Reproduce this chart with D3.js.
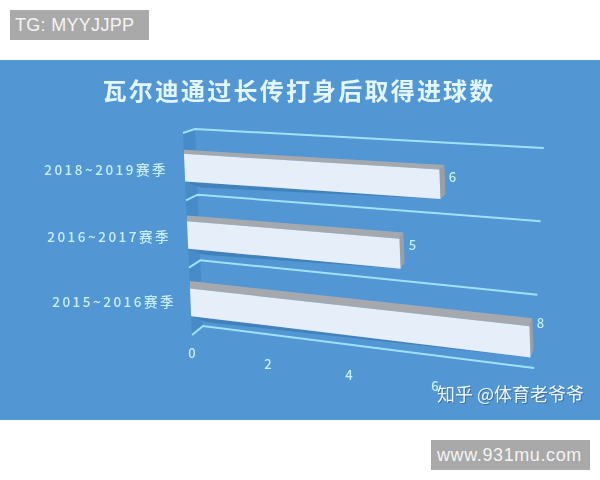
<!DOCTYPE html>
<html>
<head>
<meta charset="utf-8">
<script src="https://cdn.jsdelivr.net/npm/d3@7"></script>
<style>
  html, body { margin: 0; padding: 0; background: #fff; }
  svg { display: block; }
  text { font-family: "Noto Sans CJK SC", "Noto Sans", sans-serif; }
</style>
</head>
<body>
<div id="viz-container"></div>
<script>
// Chart data
const chartTitle = '瓦尔迪通过长传打身后取得进球数';
const seasons = ['2018~2019赛季', '2016~2017赛季', '2015~2016赛季'];
const goals = [6, 5, 8];
const tickLabels = [0, 2, 4, 6];
const gridRows = [0, 1, 2, 3];
const maxValue = 8;

const svg = d3.select('#viz-container').append('svg')
    .attr('width', 600)
    .attr('height', 480);

svg.append('defs').append('filter').attr('id', 'soft')
    .attr('filterUnits', 'userSpaceOnUse')
    .attr('x', 0).attr('y', 60).attr('width', 600).attr('height', 360)
    .append('feGaussianBlur').attr('stdDeviation', 0.5);

// Front plane of the tilted chart, r = row position, v = value
const frontX = d3.scaleLinear().domain([0, 3]).range([183, 192]);
const frontY = d3.scaleLinear().domain([0, 3]).range([133, 335]);
const unitX = d3.scaleLinear().domain([0, 3]).range([42.6, 42.4]);
const unitY = d3.scaleLinear().domain([0, 1, 2, 3]).range([2.4, 3.1, 4.35, 5.5]);

// Back plane, where the grid lines run
const backX = d3.scaleLinear().domain([0, 3]).range([195, 203]);
const backY = d3.scaleLinear().domain([0, 3]).range([129, 326]);
const backUnitX = d3.scaleLinear().domain([0, 3]).range([43.6, 41.4]);
const backUnitY = d3.scaleLinear().domain([0, 3]).range([2.37, 5.25]);

// The value axis is foreshortened, so the tick scale has one stop per label
const tickX = d3.scaleLinear().domain(tickLabels).range([192, 268, 349, 435]);
const tickY = d3.scaleLinear().domain(tickLabels).range([352, 363, 374, 385]);

function pt(v, r) {
    return [frontX(r) + v * unitX(r), frontY(r) + v * unitY(r)];
}
function backPt(v, r) {
    return [backX(r) + v * backUnitX(r), backY(r) + v * backUnitY(r)];
}
const line = d3.line();
const poly = (pts) => line(pts) + 'Z';

svg.append('rect')
    .attr('x', 0).attr('y', 60)
    .attr('width', 600).attr('height', 360)
    .attr('fill', '#5296d4');

const panel = svg.append('g').attr('filter', 'url(#soft)');

panel.append('rect')
    .attr('x', 0).attr('y', 60)
    .attr('width', 600).attr('height', 360)
    .attr('fill', '#5296d4');

// Side wall
panel.append('path')
    .attr('d', poly([pt(0, 0), backPt(0, 0), backPt(0, 3), pt(0, 3)]))
    .attr('fill', '#478bc8');

// Grid lines
const gridG = panel.append('g');
gridRows.forEach((r) => {
    gridG.append('path')
        .attr('d', line([pt(0, r), backPt(0, r), backPt(maxValue, r)]))
        .attr('fill', 'none')
        .attr('stroke', '#9fe2f8')
        .attr('stroke-width', 2);
});

// Bars, top one first
const rowTop = 0.31, rowBottom = 0.72;
const backRight = d3.scaleLinear().domain([0, 2]).range([5, 3]);
const backLift = d3.scaleLinear().domain([0, 2]).range([4.5, 8]);

const bars = panel.selectAll('g.bar')
    .data(seasons)
    .enter()
    .append('g')
    .attr('class', 'bar');

bars.each(function (d, i) {
    const g = d3.select(this);
    const v = goals[i];
    const a = pt(0, i + rowTop), b = pt(v, i + rowTop);
    const c = pt(v, i + rowBottom), e = pt(0, i + rowBottom);
    const bk = backRight(i), lift = backLift(i);

    // Shadow on the wall under the bar
    g.append('path')
        .attr('d', poly([e, c, [e[0] + 16, e[1] + 6]]))
        .attr('fill', '#4282bb');
    // Top face
    g.append('path')
        .attr('d', poly([a, b, [b[0] + bk, b[1] - lift], [a[0], a[1] - lift + 0.5]]))
        .attr('fill', '#a5a9ae');
    // Right face
    g.append('path')
        .attr('d', poly([b, c, [c[0] + bk, c[1] - lift], [b[0] + bk, b[1] - lift]]))
        .attr('fill', '#9a9ea5');
    // Front face
    g.append('path')
        .attr('d', poly([a, b, c, e]))
        .attr('fill', '#e5eef9');
});

// Season labels
const labelColor = '#c9eff6';
const seasonDx = [168, 171, 176];
const seasonDy = [169, 236, 301];
panel.selectAll('text.season')
    .data(seasons)
    .enter()
    .append('text')
    .attr('class', 'season')
    .attr('x', (d, i) => seasonDx[i])
    .attr('y', (d, i) => seasonDy[i])
    .attr('text-anchor', 'end')
    .attr('dominant-baseline', 'central')
    .attr('font-size', 13.5)
    .attr('font-weight', 500)
    .attr('letter-spacing', 2.5)
    .attr('fill', labelColor)
    .text((d) => d);

// Value labels
const valueOffsetX = [13, 13, 11];
const valueOffsetY = [7, 6, -4];
panel.selectAll('text.value')
    .data(goals)
    .enter()
    .append('text')
    .attr('class', 'value')
    .attr('x', (d, i) => pt(d, i + rowTop)[0] + valueOffsetX[i])
    .attr('y', (d, i) => pt(d, i + rowTop)[1] + valueOffsetY[i])
    .attr('text-anchor', 'middle')
    .attr('dominant-baseline', 'central')
    .attr('font-size', 13)
    .attr('font-weight', 500)
    .attr('fill', labelColor)
    .text((d) => d);

// Axis tick labels
panel.selectAll('text.tick')
    .data(tickLabels)
    .enter()
    .append('text')
    .attr('class', 'tick')
    .attr('x', (d) => tickX(d))
    .attr('y', (d) => tickY(d))
    .attr('text-anchor', 'middle')
    .attr('dominant-baseline', 'central')
    .attr('font-size', 13)
    .attr('font-weight', 500)
    .attr('fill', labelColor)
    .text((d) => d);

// Title
panel.append('text')
    .attr('x', 299)
    .attr('y', 89)
    .attr('text-anchor', 'middle')
    .attr('dominant-baseline', 'central')
    .attr('font-size', 24)
    .attr('font-weight', 700)
    .attr('letter-spacing', 2.2)
    .attr('fill', '#e2f5f8')
    .text(chartTitle);

// Watermark with its dark drop shadow
panel.append('text')
    .attr('x', 438).attr('y', 394)
    .attr('dominant-baseline', 'central')
    .attr('font-size', 18)
    .attr('fill', '#3c6f9f')
    .text('知乎 @体育老爷爷');
panel.append('text')
    .attr('x', 437).attr('y', 393)
    .attr('dominant-baseline', 'central')
    .attr('font-size', 18)
    .attr('fill', '#eef6fb')
    .text('知乎 @体育老爷爷');

// Stamps on the white margins
function stamp(x, y, w, h, label, textX, spacing) {
    svg.append('rect')
        .attr('x', x).attr('y', y)
        .attr('width', w).attr('height', h)
        .attr('fill', '#a9a9a9');
    svg.append('text')
        .attr('x', textX).attr('y', y + h / 2)
        .attr('dominant-baseline', 'central')
        .attr('font-size', 18)
        .attr('letter-spacing', spacing)
        .style('font-family', 'Liberation Sans, Arial, sans-serif')
        .attr('fill', '#f4f4f4')
        .text(label);
}
stamp(10, 10, 139, 30, 'TG: MYYJJPP', 15, 0.3);
stamp(431, 440, 159, 30, 'www.931mu.com', 437, 0.6);
</script>
</body>
</html>
